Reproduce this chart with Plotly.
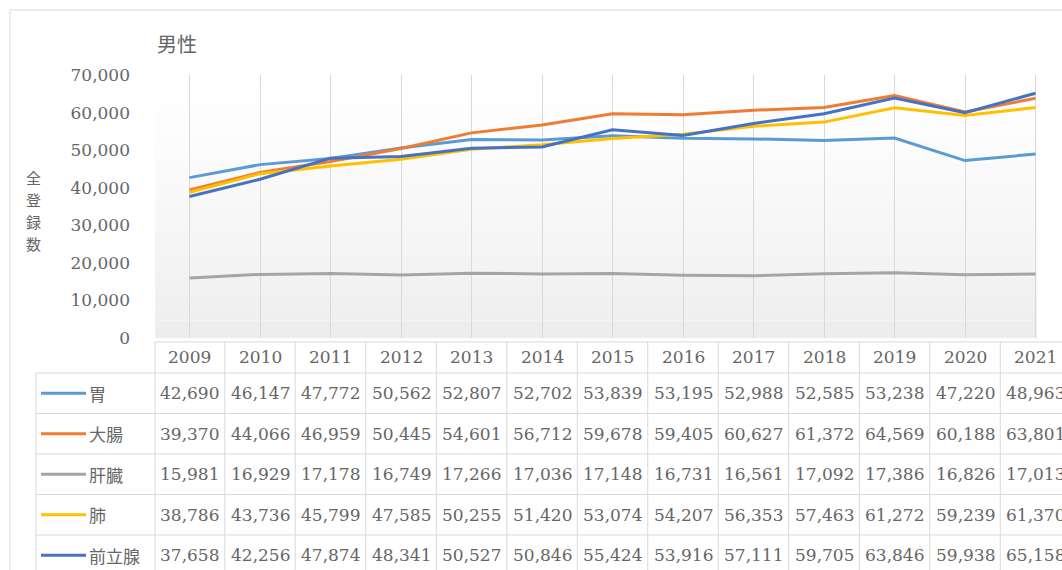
import plotly.graph_objects as go

# ---- data ----
years = [2009, 2010, 2011, 2012, 2013, 2014, 2015, 2016, 2017, 2018, 2019, 2020, 2021]
series_names = ["胃", "大腸", "肝臓", "肺", "前立腺"]
stomach = [42690, 46147, 47772, 50562, 52807, 52702, 53839, 53195, 52988, 52585, 53238, 47220, 48963]
colon = [39370, 44066, 46959, 50445, 54601, 56712, 59678, 59405, 60627, 61372, 64569, 60188, 63801]
liver = [15981, 16929, 17178, 16749, 17266, 17036, 17148, 16731, 16561, 17092, 17386, 16826, 17013]
lung = [38786, 43736, 45799, 47585, 50255, 51420, 53074, 54207, 56353, 57463, 61272, 59239, 61370]
prostate = [37658, 42256, 47874, 48341, 50527, 50846, 55424, 53916, 57111, 59705, 63846, 59938, 65158]
y_ticks = [0, 10000, 20000, 30000, 40000, 50000, 60000, 70000]
title_text = "男性"
y_title = "全登録数"

series_values = [stomach, colon, liver, lung, prostate]
colors = ["#5B9BD5", "#ED7D31", "#A5A5A5", "#FFC000", "#4472C4"]

# ---- layout geometry ----
W, H = 1062, 570
ML, MT = 155, 75
PLOT_BOTTOM = 338
MB = H - PLOT_BOTTOM
PW = W - ML
PH = PLOT_BOTTOM - MT
COL_W = 70.5
FIRST_CENTER_PX = 189.5
x0 = years[0] - (FIRST_CENTER_PX - ML) / COL_W
x1 = x0 + PW / COL_W

TEXT = "#666666"
GRID = "#d9d9d9"
SERIF = "DejaVu Serif"
CJK = "Noto Sans CJK JP"


def py(p):
    return (PLOT_BOTTOM - p) / PH


def px(p):
    return (p - ML) / PW


fig = go.Figure()
for name, vals, c in zip(series_names, series_values, colors):
    fig.add_trace(go.Scatter(x=years, y=vals, name=name, mode="lines",
                             line=dict(color=c, width=3), hoverinfo="skip"))

shapes = []
annotations = []

# background gradient (white top -> light gray bottom)
NB = 30
for i in range(NB):
    t = (i + 0.5) / NB
    g = int(round(255 - 18 * (1 - t) ** 1.3))
    shapes.append(dict(type="rect", xref="x", yref="paper",
                       x0=years[0] - 0.5, x1=years[-1] + 0.02,
                       y0=i / NB, y1=(i + 1) / NB,
                       fillcolor=f"rgb({g},{g},{g})", line=dict(width=0),
                       layer="below"))

# outer chart border
shapes.append(dict(type="rect", xref="paper", yref="paper",
                   x0=px(10), x1=px(W + 20), y0=py(10), y1=py(H + 20),
                   line=dict(color=GRID, width=1), fillcolor="rgba(0,0,0,0)"))

# table geometry
HEADER_TOP, HEADER_BOT = 342, 373
ROW_H = 40.5
TABLE_LEFT = 36
n_rows = len(series_names)
row_tops = [HEADER_BOT + i * ROW_H for i in range(n_rows + 1)]

# horizontal lines
shapes.append(dict(type="line", xref="paper", yref="paper", x0=0, x1=1,
                   y0=py(HEADER_TOP), y1=py(HEADER_TOP), line=dict(color=GRID, width=1)))
for rt in row_tops:
    shapes.append(dict(type="line", xref="paper", yref="paper", x0=px(TABLE_LEFT), x1=1,
                       y0=py(rt), y1=py(rt), line=dict(color=GRID, width=1)))
# vertical lines
shapes.append(dict(type="line", xref="paper", yref="paper", x0=px(TABLE_LEFT), x1=px(TABLE_LEFT),
                   y0=py(HEADER_BOT), y1=py(H + 20), line=dict(color=GRID, width=1)))
shapes.append(dict(type="line", xref="paper", yref="paper", x0=0, x1=0,
                   y0=py(HEADER_TOP), y1=py(H + 20), line=dict(color=GRID, width=1)))
for yr in years[1:] + [years[-1] + 1]:
    shapes.append(dict(type="line", xref="x", yref="paper", x0=yr - 0.5, x1=yr - 0.5,
                       y0=py(HEADER_TOP), y1=py(H + 20), line=dict(color=GRID, width=1)))

# header years
for yr in years:
    annotations.append(dict(x=yr, xref="x", y=py((HEADER_TOP + HEADER_BOT) / 2 - 1), yref="paper",
                            text=str(yr), showarrow=False, xanchor="center", yanchor="middle",
                            font=dict(family=SERIF, size=17, color=TEXT)))

# rows
for i, (name, vals, c) in enumerate(zip(series_names, series_values, colors)):
    cy = py(row_tops[i] + ROW_H / 2)
    shapes.append(dict(type="line", xref="paper", yref="paper", x0=px(41), x1=px(86),
                       y0=cy, y1=cy, line=dict(color=c, width=3)))
    annotations.append(dict(x=px(87), xref="paper", y=cy, yref="paper", text=name,
                            showarrow=False, xanchor="left", yanchor="middle",
                            font=dict(family=CJK, size=17, color=TEXT)))
    for yr, v in zip(years, vals):
        annotations.append(dict(x=yr, xref="x", y=cy, yref="paper", text=f"{v:,}",
                                showarrow=False, xanchor="center", yanchor="middle",
                                font=dict(family=SERIF, size=17, color=TEXT)))

# title
annotations.append(dict(x=0, xref="paper", y=py(43), yref="paper", text=title_text,
                        showarrow=False, xanchor="left", yanchor="middle",
                        font=dict(family=CJK, size=20, color=TEXT)))
# y-axis title (vertical stacked, one character per line)
for k, ch in enumerate(y_title):
    annotations.append(dict(x=px(33), xref="paper", y=py(177 + 22 * k), yref="paper",
                            text=ch, showarrow=False, xanchor="center", yanchor="middle",
                            borderpad=0,
                            font=dict(family=CJK, size=15, color=TEXT)))

fig.update_layout(
    width=W, height=H,
    margin=dict(l=ML, r=0, t=MT, b=MB, pad=0),
    paper_bgcolor="white", plot_bgcolor="white",
    showlegend=False, hovermode=False,
    shapes=shapes, annotations=annotations,
    xaxis=dict(range=[x0, x1], tickvals=years, showticklabels=False, showgrid=True,
               gridcolor=GRID, gridwidth=1, zeroline=False, showline=False, ticks=""),
    yaxis=dict(range=[0, 70000], tickvals=y_ticks, tickformat=",", showgrid=False,
               zeroline=False, showline=False, ticks="", ticklabelstandoff=24,
               tickfont=dict(family=SERIF, size=17, color=TEXT)),
)

fig.write_html("out.html", config={"displayModeBar": False},
               post_script="document.body.style.margin='0';document.body.style.overflow='hidden';")
